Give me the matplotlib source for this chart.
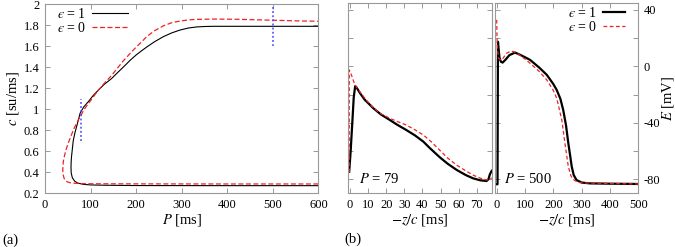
import matplotlib
matplotlib.use("Agg")
import matplotlib.pyplot as plt
from matplotlib.ticker import MultipleLocator, FuncFormatter

plt.rcParams.update({
    "font.family": ["Liberation Serif", "DejaVu Serif"],
    "mathtext.fontset": "stix",
    "axes.unicode_minus": False,
    "font.size": 9,
    "axes.edgecolor": "#999999",
    "axes.linewidth": 0.8,
    "xtick.color": "#999999", "ytick.color": "#999999",
    "xtick.labelcolor": "black", "ytick.labelcolor": "black",
    "xtick.direction": "in", "ytick.direction": "in",
    "xtick.major.size": 3.5, "ytick.major.size": 3.5,
    "xtick.major.width": 0.7, "ytick.major.width": 0.7,
    "xtick.major.pad": 4, "ytick.major.pad": 4,
})

RED = "#ee2222"
BLUE = "#4444ff"
LAB = 10.5

# ── (a) restitution curves c(P), lower branch -> fold -> upper branch ────────
P_eps1 = [600, 400, 200, 130, 100, 85, 72, 65, 60, 57.5, 57, 57.3, 58, 60, 62,
          66, 71, 77, 85, 95, 105, 117, 130, 146, 160, 172, 187, 200, 212, 223,
          240, 260, 278, 296, 315, 333, 350, 370, 400, 500, 600]
c_eps1 = [0.27, 0.27, 0.271, 0.274, 0.277, 0.282, 0.294, 0.313, 0.345, 0.39,
          0.44, 0.49, 0.54, 0.62, 0.70, 0.78, 0.86, 0.96, 1.02, 1.07, 1.125,
          1.18, 1.235, 1.29, 1.35, 1.40, 1.465, 1.515, 1.555, 1.59, 1.64,
          1.69, 1.725, 1.752, 1.772, 1.782, 1.786, 1.788, 1.788, 1.788, 1.788]

P_eps0 = [600, 400, 200, 100, 80, 65, 55, 49, 45, 42, 40, 39, 39.3, 40.5, 43,
          46, 50, 55, 63, 73, 80, 88, 100, 117, 130, 146, 160, 172, 187, 200,
          212, 223, 240, 260, 278, 296, 315, 333, 370, 420, 500, 550, 600]
c_eps0 = [0.286, 0.286, 0.287, 0.288, 0.29, 0.293, 0.298, 0.306, 0.318, 0.338,
          0.37, 0.41, 0.46, 0.51, 0.56, 0.61, 0.665, 0.72, 0.81, 0.895, 0.95,
          1.01, 1.08, 1.18, 1.245, 1.32, 1.395, 1.46, 1.53, 1.59, 1.64, 1.689,
          1.745, 1.793, 1.822, 1.838, 1.849, 1.854, 1.857, 1.855, 1.846,
          1.84, 1.836]

P_marks = [78, 500]
c_mark_lo = [0.7, 1.6]
c_mark_hi = [1.1, 2.0]

# ── (b) action potential profiles E(-z/c) ────────────────────────────────────
t79_eps1 = [-0.5, 0.3, 1.3, 2.0, 2.8, 3.5, 5.5, 8, 12.9, 17, 22, 26, 31, 36,
            40.5, 44.2, 49.7, 54, 59, 64, 68, 72, 75.5, 76.5, 77.3, 78.3]
E79_eps1 = [-74.6, -60, -38, -22, -14, -14.8, -19, -23.5, -29.7, -34, -38,
            -41.3, -45, -49, -53.3, -58, -64.5, -69, -73.4, -77, -79.3, -80.7,
            -81.2, -80, -76.5, -74]
t79_eps0 = [-0.5, -0.45, 1, 2, 2.8, 4, 6, 9, 13, 17, 22, 26, 31, 36, 40.5, 45,
            49.7, 54, 59, 64, 68, 72, 75.5, 77, 78.3]
E79_eps0 = [-75, -2.5, -7, -10.8, -13.2, -15.5, -19, -24, -29.5, -33.5, -36.8,
            -39, -41.5, -45, -48.6, -53.5, -59.5, -65, -70, -74, -77, -79.2,
            -80.5, -80, -79]

t500_eps1 = [-6, 3, 4.5, 6, 10, 15, 21, 30, 45, 65, 85, 100, 118, 150, 177,
             200, 212, 225, 235, 245, 253, 260, 265, 272, 282, 300, 330, 400,
             500]
E500_eps1 = [-83.5, -83.5, 17.5, 14, 6, 3.3, 2.7, 4.5, 8, 9.8, 8, 6.5, 4.6,
             -0.8, -6, -12.5, -16.7, -23, -30.9, -42, -54.5, -64, -71, -77,
             -80.5, -82.3, -82.9, -83.1, -83.3]
t500_eps0 = [0, 1, 3, 6, 12, 18, 25, 35, 50, 60, 80, 100, 118, 150, 177, 200,
             212, 230, 241, 253, 262, 270, 285, 300, 400, 500]
E500_eps0 = [33, 22, 12, 6, 4.8, 4.6, 6.5, 9.3, 10.8, 10.5, 8.2, 5.2, 2.2,
             -3.5, -9.6, -17, -22.6, -38, -54.5, -71, -77.5, -80, -82, -82.5,
             -83, -83.3]

fig = plt.figure(figsize=(6.75, 2.47), dpi=100)

# ── panel (a) ────────────────────────────────────────────────────────────────
ax = fig.add_axes([0.0667, 0.2186, 0.405, 0.765])
ax.plot(P_eps1, c_eps1, color="black", lw=0.8, label=r"$ϵ$ = 1")
ax.plot(P_eps0, c_eps0, color=RED, lw=0.9, dashes=(4, 2), label=r"$ϵ$ = 0")
for p, lo, hi in zip(P_marks, c_mark_lo, c_mark_hi):
    ax.plot([p, p], [lo, hi], color=BLUE, lw=1.1, dashes=(1.2, 1.5))
ax.set_xlim(0, 600)
ax.set_ylim(0.2, 2.0)
ax.xaxis.set_major_locator(MultipleLocator(100))
ax.yaxis.set_major_locator(MultipleLocator(0.2))
ax.yaxis.set_major_formatter(FuncFormatter(lambda v, _: f"{round(v, 2):g}"))
ax.tick_params(top=True, right=True)
ax.set_xlabel(r"$P$ [ms]", fontsize=LAB, labelpad=1)
ax.set_ylabel(r"$c$ [su/ms]", fontsize=LAB, labelpad=2)
ax.legend(loc="upper left", bbox_to_anchor=(0.045, 0.985), frameon=False,
          markerfirst=False, fontsize=10, handlelength=2.6, handletextpad=0.4,
          labelspacing=0.0, borderpad=0, borderaxespad=0)

# ── panel (b) ────────────────────────────────────────────────────────────────
E_lim = (-89.7, 44.7)
bl = fig.add_axes([0.516, 0.2186, 0.2124, 0.768])
bl.plot(t79_eps1, E79_eps1, color="black", lw=1.6)
bl.plot(t79_eps0, E79_eps0, color=RED, lw=0.9, dashes=(3, 2))
bl.set_xlim(-1, 78.3)
bl.set_ylim(*E_lim)
bl.xaxis.set_major_locator(MultipleLocator(10))
bl.yaxis.set_major_locator(MultipleLocator(20))
bl.tick_params(top=True, right=True, labelleft=False)
bl.set_xlabel(r"$-z/c$ [ms]", fontsize=LAB, labelpad=1)
bl.text(5, -80, r"$P$ = 79", fontsize=10.5, va="center", ha="left")

br = fig.add_axes([0.7333, 0.2186, 0.2123, 0.768])
br.plot(t500_eps1, E500_eps1, color="black", lw=1.6, label=r"$ϵ$ = 1")
br.plot(t500_eps0, E500_eps0, color=RED, lw=0.9, dashes=(3, 2),
        label=r"$ϵ$ = 0")
br.set_xlim(-6, 500)
br.set_ylim(*E_lim)
br.xaxis.set_major_locator(MultipleLocator(100))
br.yaxis.set_major_locator(MultipleLocator(20))
br.yaxis.set_major_formatter(
    FuncFormatter(lambda v, _: f"{int(round(v))}" if round(v) % 40 == 0 else ""))
br.tick_params(top=True, left=True, right=True, labelleft=False,
               labelright=True)
br.yaxis.set_label_position("right")
br.set_ylabel(r"$E$ [mV]", fontsize=LAB, labelpad=0)
br.set_xlabel(r"$-z/c$ [ms]", fontsize=LAB, labelpad=1)
br.text(25, -80, r"$P$ = 500", fontsize=10.5, va="center", ha="left")
br.legend(loc="upper right", bbox_to_anchor=(0.907, 0.985), frameon=False,
          markerfirst=False, fontsize=10, handlelength=1.6, handletextpad=0.4,
          labelspacing=0.0, borderpad=0, borderaxespad=0)

fig.text(2 / 675, 1 - 240 / 247, "(a)", fontsize=LAB, va="center", ha="left")
fig.text(344 / 675, 1 - 239 / 247, "(b)", fontsize=LAB, va="center", ha="left")

fig.savefig("out.png", dpi=100)
